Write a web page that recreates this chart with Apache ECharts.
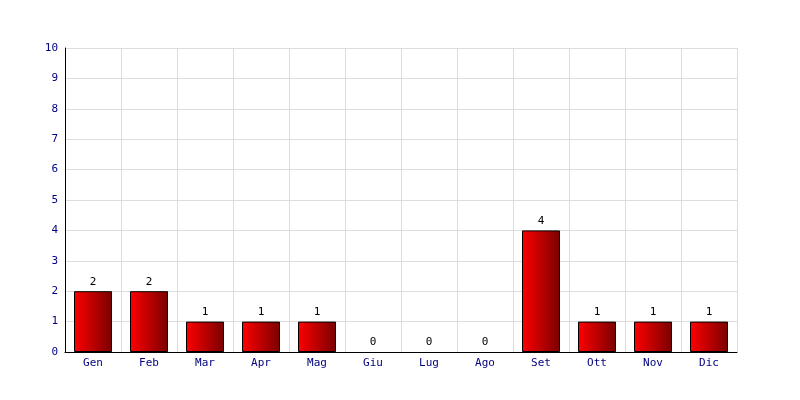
<!DOCTYPE html>
<html><head><meta charset="utf-8">
<script src="https://cdn.jsdelivr.net/npm/echarts@6/dist/echarts.min.js"></script>
<style>html,body{margin:0;padding:0;background:#fff}#c{width:800px;height:400px}</style>
</head><body><div id="c"></div>
<script>
var categories = ["Gen","Feb","Mar","Apr","Mag","Giu","Lug","Ago","Set","Ott","Nov","Dic"];
var values = [2,2,1,1,1,0,0,0,4,1,1,1];
var yTicks = [0,1,2,3,4,5,6,7,8,9,10];

var chart = echarts.init(document.getElementById('c'), null, {renderer:'canvas'});
var font = '"DejaVu Sans Mono", monospace';
var seriesData = values.map(function(v){
  return v === 0 ? {value:v, itemStyle:{borderWidth:0}} : v;
});
chart.setOption({
  animation:false,
  backgroundColor:'#fff',
  grid:{left:65,right:63,top:48,bottom:48,containLabel:false},
  xAxis:{
    type:'category', data:categories, boundaryGap:true,
    axisLine:{lineStyle:{color:'#000',width:1}},
    axisTick:{show:false},
    axisLabel:{color:'#000080',fontFamily:font,fontSize:11,margin:6},
    splitLine:{show:true,lineStyle:{color:'#dddddd',width:1}}
  },
  yAxis:{
    type:'value', min:yTicks[0], max:yTicks[yTicks.length-1], interval:1,
    axisLine:{show:true,lineStyle:{color:'#000',width:1}},
    axisTick:{show:false},
    axisLabel:{color:'#000080',fontFamily:font,fontSize:11,margin:7},
    splitLine:{show:true,lineStyle:{color:'#dddddd',width:1}}
  },
  series:[{
    type:'bar', data:seriesData, barWidth:38,
    itemStyle:{
      borderColor:'#000',borderWidth:1,
      color:new echarts.graphic.LinearGradient(0,0,1,0,[{offset:0,color:'#ff0000'},{offset:1,color:'#7a0000'}])
    },
    label:{show:true,position:'top',color:'#000',fontFamily:font,fontSize:11,distance:4}
  }]
});
</script></body></html>
